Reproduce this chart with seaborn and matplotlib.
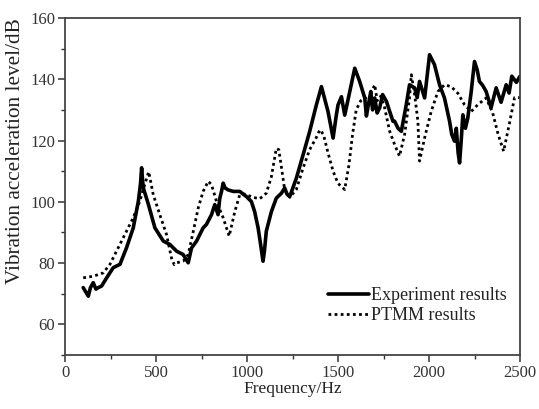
import matplotlib
matplotlib.use("Agg")
import matplotlib.pyplot as plt
import seaborn as sns
import pandas as pd
from matplotlib.ticker import MultipleLocator

exp_freq = [100, 115, 128, 140, 155, 170, 183, 201, 229, 265, 302, 338, 375, 403, 415, 421, 425, 430,
            458, 494, 540, 576, 613, 649, 677, 695, 723, 759, 777, 805, 823, 841, 850, 860, 869, 880,
            896, 924, 960, 997, 1024, 1042, 1061, 1075, 1088, 1096, 1106, 1134, 1161, 1189, 1207, 1220,
            1235, 1271, 1308, 1344, 1381, 1409, 1445, 1473, 1490, 1500, 1519, 1537, 1555, 1592, 1619,
            1647, 1656, 1665, 1680, 1690, 1702, 1715, 1729, 1745, 1766, 1784, 1802, 1811, 1830, 1848,
            1875, 1893, 1921, 1935, 1948, 1976, 2003, 2030, 2058, 2085, 2113, 2125, 2140, 2150, 2160,
            2168, 2177, 2186, 2200, 2213, 2232, 2250, 2265, 2277, 2295, 2314, 2341, 2369, 2396, 2424,
            2440, 2455, 2480, 2500]
exp_level = [72, 70.5, 69.2, 72, 73.6, 71.5, 72, 72.5, 75.2, 78.5, 79.6, 85, 91.5, 100.2, 106, 111.1, 108, 104.6,
             99.2, 91.5, 87.2, 86.1, 83.9, 82.8, 80.1, 84.9, 87.2, 91.5, 92.6, 95.8, 99.1, 95.8, 101, 103.4, 106.1, 104.5,
             103.9, 103.4, 103.4, 101.7, 100.1, 96.8, 91.5, 86, 80.6, 84, 90.4, 96.8, 101.2, 102.8, 104.5, 102.5,
             101.7, 107.7, 115.3, 122.9, 131.6, 137.6, 129.5, 120.8, 128, 131.6, 134.3, 128.3, 133.3, 143.6, 139.3,
             133.9, 128, 131, 136, 130, 133.9, 129, 130.7, 135, 132.8, 129.5, 126.3, 126.3, 124, 123.0,
             131.7, 138.2, 137.2, 134, 139.3, 133.9, 148, 144.8, 138.2, 133.9, 126.3, 122, 119.8, 124, 116,
             112.7, 120, 128.4, 124, 127.3, 136, 145.8, 143, 139.3, 138, 136, 130.7, 137.2, 132.5, 138.2,
             135.5, 141, 139, 141]

ptmm_freq = [100, 155, 210, 247, 283, 311, 338, 375, 411, 440, 460, 485, 521, 558, 585, 600, 613, 649, 677,
             705, 732, 759, 787, 805, 832, 869, 902, 933, 960, 990, 1030, 1070, 1106, 1134, 1161, 1175, 1189,
             1207, 1235, 1271, 1308, 1344, 1381, 1400, 1420, 1445, 1473, 1500, 1537, 1560, 1580, 1600, 1625,
             1650, 1670, 1685, 1702, 1715, 1735, 1755, 1784, 1811, 1838, 1866, 1893, 1903, 1921, 1939, 1948,
             1976, 2012, 2049, 2085, 2122, 2159, 2195, 2232, 2268, 2314, 2350, 2380, 2410, 2440, 2470, 2500]
ptmm_level = [75.2, 75.7, 76.8, 79.6, 83.9, 87.2, 90.4, 94.8, 100.2, 106, 109.8, 102.3, 95.8, 89.3, 81.7, 79.5, 80.1, 80.6, 82.8,
              90.4, 98, 103.4, 106.7, 105.6, 100.2, 94.8, 88.8, 96.8, 102.3, 102.5, 101.5, 101, 102.8, 108.2, 117.4, 117, 111.4,
              103.9, 101.5, 104, 111, 117, 121, 123.5, 122, 116, 110, 106, 104, 112, 122, 130, 133,
              134, 132, 136, 138.2, 133, 134.5, 131, 123, 118.7, 114.9, 122.0, 133.9, 141.5, 135, 126.3, 113.3,
              120.9, 129.5, 136, 138.2, 137.6, 135.4, 131.7, 129.5, 131.7, 133.9, 129, 122, 116.5, 125, 134, 134]

x_ticks = [0, 500, 1000, 1500, 2000, 2500]
y_ticks = [60, 80, 100, 120, 140, 160]

sns.set_style("ticks")
plt.rcParams['font.family'] = ['Liberation Serif', 'DejaVu Serif']
plt.rcParams['text.color'] = '#222222'
plt.rcParams['axes.labelcolor'] = '#222222'
plt.rcParams['xtick.color'] = '#333333'
plt.rcParams['ytick.color'] = '#333333'

exp_df = pd.DataFrame({"Frequency": exp_freq, "Level": exp_level})
ptmm_df = pd.DataFrame({"Frequency": ptmm_freq, "Level": ptmm_level})

fig = plt.figure(figsize=(5.39, 4.09), dpi=100)
ax = fig.add_axes([65/539, 1-355/409, (520-65)/539, (355-18)/409])

sns.lineplot(data=exp_df, x="Frequency", y="Level", ax=ax, color="black", lw=2.6,
             estimator=None, sort=False, label="Experiment results")
sns.lineplot(data=ptmm_df, x="Frequency", y="Level", ax=ax, color="black", lw=2.0,
             estimator=None, sort=False, label="PTMM results", linestyle=(0, (1, 1.2)))

ax.set_xlim(0, 2500)
ax.set_ylim(50, 160)
ax.set_xticks(x_ticks)
ax.set_yticks(y_ticks)
ax.xaxis.set_minor_locator(MultipleLocator(250))
ax.yaxis.set_minor_locator(MultipleLocator(10))
ax.tick_params(which='major', direction='out', length=5, width=1.1, labelsize=12, pad=2)
ax.tick_params(which='minor', direction='out', length=3, width=1.0)
for s in ax.spines.values():
    s.set_linewidth(1.3)
    s.set_color('#444444')

ax.set_xlabel("Frequency/Hz", fontsize=12.5, labelpad=0)
ax.set_ylabel("Vibration acceleration level/dB", fontsize=15.3)
ax.yaxis.set_label_coords(-0.088, 0.605)

leg = ax.legend(loc='lower right', bbox_to_anchor=(0.995, 0.06), frameon=False, fontsize=13,
                handlelength=2.3, handletextpad=0.1, labelspacing=0.15, borderaxespad=0.2)

fig.savefig("out.png", dpi=100)
